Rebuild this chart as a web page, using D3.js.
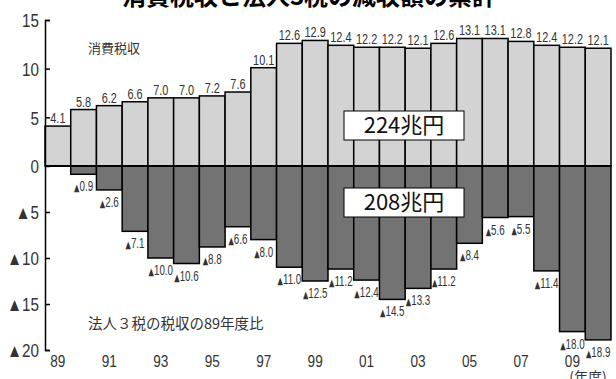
<!DOCTYPE html>
<html>
<head>
<meta charset="utf-8">
<script src="https://cdn.jsdelivr.net/npm/d3@7"></script>
<style>
  body { margin: 0; background: #fff; }
  svg { display: block; }
</style>
</head>
<body>
<svg id="chart" width="616" height="379"></svg>
<script>
// 年度 1989..2010
const years = ["89","90","91","92","93","94","95","96","97","98","99","00","01","02","03","04","05","06","07","08","09","10"];
// 消費税収 (兆円)
const consumption = [4.1, 5.8, 6.2, 6.6, 7.0, 7.0, 7.2, 7.6, 10.1, 12.6, 12.9, 12.4, 12.2, 12.2, 12.1, 12.6, 13.1, 13.1, 12.8, 12.4, 12.2, 12.1];
// 法人3税の税収の89年度比 (減少額, 兆円)
const corpDecrease = [0, 0.9, 2.6, 7.1, 10.0, 10.6, 8.8, 6.6, 8.0, 11.0, 12.5, 11.2, 12.4, 14.5, 13.3, 11.2, 8.4, 5.6, 5.5, 11.4, 18.0, 18.9];
const yTicks = [15, 10, 5, 0, -5, -10, -15, -20];
const xLabels = ["89","91","93","95","97","99","01","03","05","07","09"];

const svg = d3.select("#chart");
const numFont = "'Liberation Sans', Arial, sans-serif";
const jpFont = "'Noto Sans CJK JP', sans-serif";

const x = d3.scaleBand().domain(years).range([45, 611]).padding(0);
// the source uses different scales above and below zero
const y = d3.scaleLinear().domain([-20, 0, 15]).range([350, 166, 20]);

// title (cut off at top)
svg.append("text")
    .attr("x", 309).attr("y", 5)
    .attr("text-anchor", "middle")
    .attr("font-family", jpFont)
    .attr("font-weight", "bold")
    .attr("font-size", 24)
    .text("消費税収と法人3税の減収額の累計");

// upper bars
svg.append("g").selectAll("rect")
  .data(consumption)
  .join("rect")
    .attr("x", (d, i) => x(years[i]))
    .attr("y", d => y(d))
    .attr("width", x.bandwidth())
    .attr("height", d => y(0) - y(d))
    .attr("fill", "#d3d3d3")
    .attr("stroke", "#000")
    .attr("stroke-width", 1.5);

// lower bars
svg.append("g").selectAll("rect")
  .data(corpDecrease)
  .join("rect")
    .attr("x", (d, i) => x(years[i]))
    .attr("y", y(0))
    .attr("width", x.bandwidth())
    .attr("height", d => y(-d) - y(0))
    .attr("fill", "#737373")
    .attr("stroke", "#000")
    .attr("stroke-width", d => d > 0 ? 1.5 : 0);

// zero line
svg.append("line")
    .attr("x1", 45).attr("x2", 611)
    .attr("y1", y(0)).attr("y2", y(0))
    .attr("stroke", "#000")
    .attr("stroke-width", 2);

// value labels
svg.append("g").selectAll("text")
  .data(consumption)
  .join("text")
    .attr("transform", (d, i) => `translate(${x(years[i]) + x.bandwidth() / 2},${y(d) - 3}) scale(0.78,1)`)
    .attr("text-anchor", "middle")
    .attr("font-family", numFont)
    .attr("font-size", 14)
    .attr("fill", "#333")
    .text(d => d.toFixed(1));

const low = svg.append("g").selectAll("text")
  .data(corpDecrease.map((d, i) => ({ d, i })).filter(o => o.d > 0))
  .join("text")
    .attr("transform", o => `translate(${x(years[o.i]) + x.bandwidth() / 2},${y(-o.d) + 17}) scale(0.7,1)`)
    .attr("text-anchor", "middle")
    .attr("font-family", numFont)
    .attr("font-size", 14)
    .attr("fill", "#333");
low.append("tspan").attr("font-size", 10).attr("font-family", "'DejaVu Sans', sans-serif").text("▲");
low.append("tspan").text(o => o.d.toFixed(1));

// y axis
const yAxis = svg.append("g")
    .attr("transform", "translate(45,0)")
    .call(d3.axisLeft(y).tickValues(yTicks).tickSizeInner(-5).tickSizeOuter(-5).tickPadding(6)
      .tickFormat(d => d < 0 ? "▲" + (-d) : d));
yAxis.selectAll("path, line").attr("stroke", "#000").attr("stroke-width", 1.5);
yAxis.selectAll("text")
    .attr("font-family", numFont)
    .attr("font-size", 19)
    .attr("fill", "#333")
    .attr("x", null)
    .attr("dy", "0.36em")
    .attr("transform", "translate(-6,0) scale(0.8,1)");

// x labels
svg.append("g").selectAll("text")
  .data(xLabels)
  .join("text")
    .attr("transform", d => `translate(${x(d) + x.bandwidth() / 2},367) scale(0.8,1)`)
    .attr("text-anchor", "middle")
    .attr("font-family", numFont)
    .attr("font-size", 17)
    .attr("fill", "#333")
    .text(d => d);

svg.append("text")
    .attr("x", 588).attr("y", 382)
    .attr("text-anchor", "middle")
    .attr("font-family", jpFont)
    .attr("font-size", 14)
    .attr("fill", "#333")
    .text("(年度)");

// series notes
svg.append("text")
    .attr("x", 88).attr("y", 53)
    .attr("font-family", jpFont)
    .attr("font-size", 13)
    .attr("fill", "#333")
    .text("消費税収");

svg.append("text")
    .attr("x", 88).attr("y", 329)
    .attr("font-family", jpFont)
    .attr("font-size", 14.5)
    .attr("fill", "#333")
    .text("法人３税の税収の89年度比");

// total boxes
const totals = [
  { label: "224兆円", top: 111 },
  { label: "208兆円", top: 188 }
];
const box = svg.append("g").selectAll("g")
  .data(totals)
  .join("g")
    .attr("transform", d => `translate(344,${d.top})`);
box.append("rect")
    .attr("width", 120).attr("height", 29)
    .attr("fill", "#fff")
    .attr("stroke", "#000")
    .attr("stroke-width", 1);
box.append("text")
    .attr("x", 60).attr("y", 22)
    .attr("text-anchor", "middle")
    .attr("font-family", jpFont)
    .attr("font-size", 22)
    .attr("fill", "#111")
    .text(d => d.label);
</script>
</body>
</html>
